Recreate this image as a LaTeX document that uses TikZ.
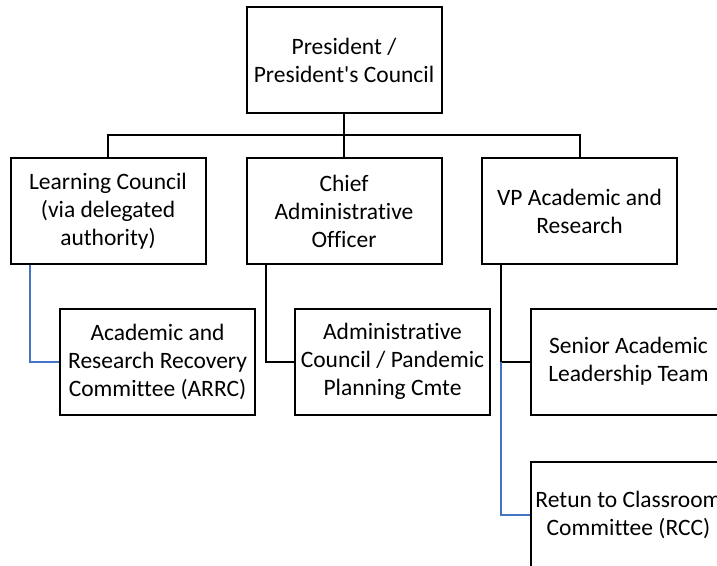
\documentclass[tikz,border=0pt]{standalone}
\usepackage{fontspec}
\setmainfont{Carlito}[Ligatures={NoCommon,TeXOff}]
\usetikzlibrary{positioning}
\definecolor{linkblue}{RGB}{68,114,196}

\begin{document}
\begin{tikzpicture}[x=1pt, y=-1pt,
  every node/.style = {shape=rectangle, draw, line width=2pt, align=center,
    minimum width=195pt, minimum height=106pt, inner sep=0pt,
    font=\fontsize{23.5}{28}\selectfont},
    link/.style={draw, line width=2pt},
    bluelink/.style={draw=linkblue, line width=2pt}
    ]
  \clip (0,0) rectangle (717,565);
  \node (pres) at (344,60) {President /\\President's Council};
  \node (lc) at (108,211) {Learning Council\\(via delegated\\authority)};
  \node (cao) at (344,211) {Chief\\Administrative\\Officer};
  \node (vp) at (579.5,211) {VP Academic and\\Research};
  \node (arrc) at (157.5,361.5) {Academic and\\Research Recovery\\Committee (ARRC)};
  \node (adm) at (392.5,361.5) {Administrative\\Council / Pandemic\\Planning Cmte};
  \node (salt) at (628.5,361.5) {Senior Academic\\Leadership Team};
  \node (rcc) [below=45pt of salt] {Retun to Classroom\\Committee (RCC)};
  % top level
  \draw[link] (pres.south) -- (cao.north);
  \draw[link] (lc.north) -- ++(0,-22) -| (vp.north);
  % second level
  \draw[bluelink] ([xshift=20pt]lc.south west) |- (arrc.west);
  \draw[link] ([xshift=20pt]cao.south west) |- (adm.west);
  \draw[link] ([xshift=20pt]vp.south west) |- (salt.west);
  \draw[bluelink] ([xshift=20pt]vp.south west |- salt.west) |- (rcc.west);
\end{tikzpicture}
\end{document}
